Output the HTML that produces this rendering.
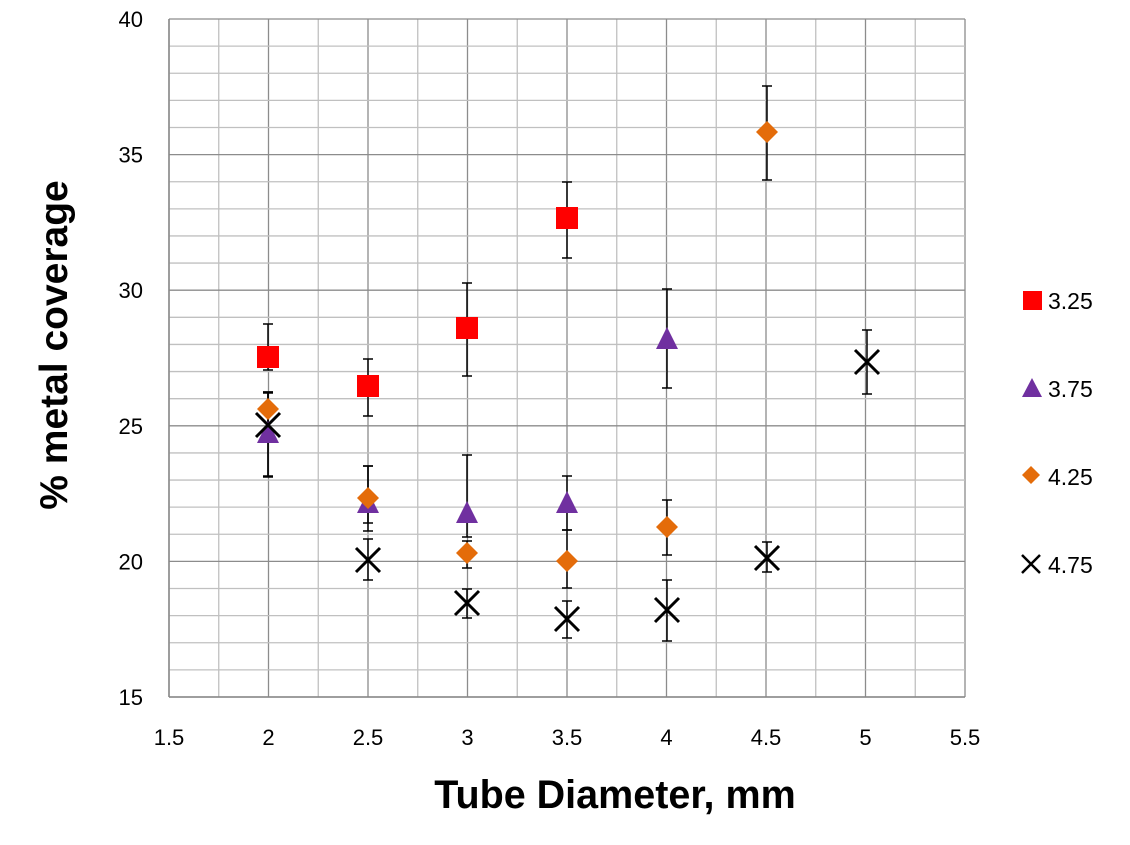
<!DOCTYPE html>
<html><head><meta charset="utf-8"><style>
body{margin:0;background:#fff}
svg text{font-family:"Liberation Sans",sans-serif}
</style></head><body>
<svg id="s" width="1130" height="840" xmlns="http://www.w3.org/2000/svg">
<rect width="1130" height="840" fill="#fff"/>
<g id="grid"></g>
<g id="data"></g>
<text x="615" y="808" font-size="39.5" font-weight="bold" text-anchor="middle">Tube Diameter, mm</text>
<text transform="translate(67,345) rotate(-90)" font-size="39" font-weight="bold" text-anchor="middle">% metal coverage</text>
<g font-size="23">
<rect x="1023" y="291" width="19" height="19" fill="#ff0000"/><text x="1048" y="309">3.25</text>
<polygon points="1032,378 1042,397 1022,397" fill="#7030a0"/><text x="1048" y="397">3.75</text>
<polygon points="1031,466 1040,475 1031,484 1022,475" fill="#e46c0a"/><text x="1048" y="485">4.25</text>
<path d="M1022,555 L1040,573 M1040,555 L1022,573" stroke="#000" stroke-width="2.5"/><text x="1048" y="573">4.75</text>
</g>
</svg>
<script>
var ns="http://www.w3.org/2000/svg",g=document.getElementById('grid'),d=document.getElementById('data');
function el(p,t,a){var e=document.createElementNS(ns,t);for(var k in a)e.setAttribute(k,a[k]);p.appendChild(e);return e;}
function X(v){return 169+(v-1.5)*199;}function Y(v){return 19+(40-v)*27.12;}
for(var i=0;i<=16;i++){var x=169+i*49.75;el(g,'line',{x1:x,x2:x,y1:19,y2:697,stroke:i%2?'#c0c0c0':'#8c8c8c','stroke-width':1.3});}
for(var j=0;j<=25;j++){var y=19+j*27.12;el(g,'line',{x1:169,x2:965,y1:y,y2:y,stroke:j%5?'#c0c0c0':'#8c8c8c','stroke-width':1.3});}
el(g,'line',{x1:169,x2:169,y1:19,y2:697,stroke:'#888','stroke-width':1.5});
el(g,'line',{x1:169,x2:965,y1:697,y2:697,stroke:'#888','stroke-width':1.5});
for(var j=0;j<=5;j++){var t=el(g,'text',{x:143,y:Y(15+5*j)+8,'font-size':22,'text-anchor':'end'});t.textContent=15+5*j;}
for(var i=0;i<=8;i++){var v=1.5+0.5*i;var t=el(g,'text',{x:X(v),y:745,'font-size':22,'text-anchor':'middle'});t.textContent=v;}
function eb(x,a,b){el(d,'line',{x1:x,x2:x,y1:a,y2:b,stroke:'#000','stroke-width':1.5});
[a,b].forEach(function(y){el(d,'line',{x1:x-5,x2:x+5,y1:y,y2:y,stroke:'#000','stroke-width':1.5});});}
var sq=[[268,357,324,370],[368,386,359,416],[467,328,283,376],[567,218,182,258]];
var tr=[[268,432,392,476],[368,502,466,523],[467,512,455,537],[567,502,476,530],[667,338,289,388]];
var di=[[268,409,393,440],[368,498,466,531],[467,553,541,568],[567,561,530,588],[667,527,500,555],[767,132,86,180]];
var xx=[[268,425,392,477],[368,560,539,580],[467,603,589,618],[567,619,601,638],[667,610,580,641],[767,558,542,572],[867,362,330,394]];
[sq,tr,di,xx].forEach(function(s){s.forEach(function(p){eb(p[0],p[2],p[3]);});});
sq.forEach(function(p){el(d,'rect',{x:p[0]-11,y:p[1]-11,width:22,height:22,fill:'#ff0000'});});
tr.forEach(function(p){el(d,'polygon',{points:(p[0])+','+(p[1]-11)+' '+(p[0]+11)+','+(p[1]+11)+' '+(p[0]-11)+','+(p[1]+11),fill:'#7030a0'});});
di.forEach(function(p){el(d,'polygon',{points:p[0]+','+(p[1]-11)+' '+(p[0]+11)+','+p[1]+' '+p[0]+','+(p[1]+11)+' '+(p[0]-11)+','+p[1],fill:'#e46c0a'});});
xx.forEach(function(p){el(d,'path',{d:'M'+(p[0]-12)+','+(p[1]-12)+' L'+(p[0]+12)+','+(p[1]+12)+' M'+(p[0]+12)+','+(p[1]-12)+' L'+(p[0]-12)+','+(p[1]+12),stroke:'#000','stroke-width':3});});
</script>
</body></html>
